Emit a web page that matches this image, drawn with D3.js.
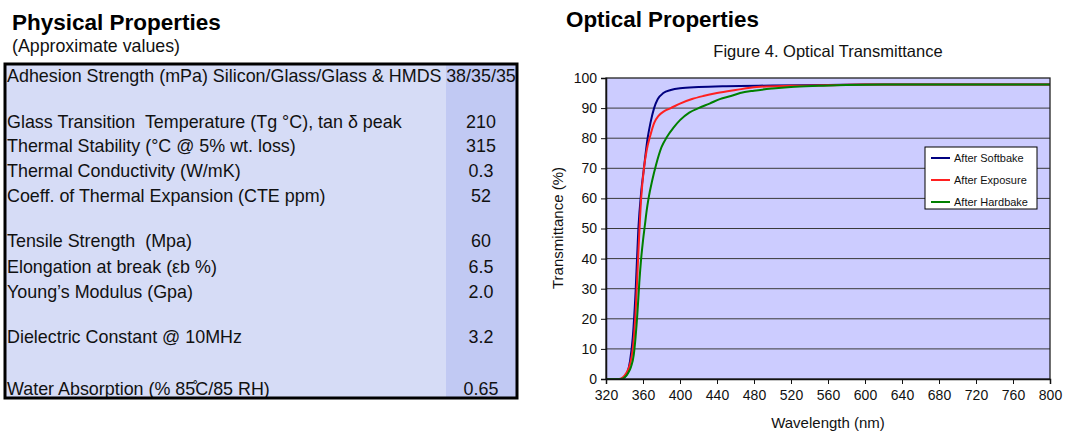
<!DOCTYPE html>
<html><head><meta charset="utf-8">
<script src="https://cdn.jsdelivr.net/npm/d3@7"></script>
<style>body{margin:0;background:#fff}svg{display:block;font-family:"Liberation Sans",Arial,sans-serif}text{white-space:pre}</style>
</head><body>
<svg id="c" width="1067" height="435"></svg>
<script>
// ---- Table data ----
const propLabels = [
  "Adhesion Strength (mPa) Silicon/Glass/Glass & HMDS",
  "Glass Transition  Temperature (Tg °C), tan δ peak",
  "Thermal Stability (°C @ 5% wt. loss)",
  "Thermal Conductivity (W/mK)",
  "Coeff. of Thermal Expansion (CTE ppm)",
  "Tensile Strength  (Mpa)",
  "Elongation at break (εb %)",
  "Young’s Modulus (Gpa)",
  "Dielectric Constant @ 10MHz",
  "Water Absorption (% 85\u030AC/85 RH)"
];
const propValues = ["38/35/35","210","315","0.3","52","60","6.5","2.0","3.2","0.65"];
const propRowY = [76,122,146,171,196,241,267,292,337,389];

// ---- Chart data ----
const seriesNames = ["After Softbake","After Exposure","After Hardbake"];
const seriesColors = ["#000080","#ff2020","#008000"];
const softbakeWl = [320,335,340,343,346,349,352,355,358,361,365,368,372,376,382,390,400,420,450,500,560,600,700,800];
const softbakeT  = [0,0,0.5,2,6,14,29,50,62,70,80,85,90,93,95,96,96.6,97,97.3,97.5,97.7,97.8,97.8,97.8];
const exposureWl = [320,334,338,342,346,349,352,355,358,361,364,368,372,377,383,390,400,413,425,440,460,483,520,560,600,800];
const exposureT  = [0,0,0.5,2,5,10,22,42,60,70,76,81,85,87.5,89,90,91.5,93,94,95,96,97,97.4,97.6,97.8,97.8];
const hardbakeWl = [320,336,340,344,347,350,352,354,356,358,360,362,364,366,370,374,380,386,393,400,410,420,432,443,455,465,480,500,520,550,580,620,800];
const hardbakeT  = [0,0,0.5,2,4,8,14,22,32,40,46,51,56,60,66,71,77,80.5,83.5,86,88.5,90,91.5,93,94,95,95.8,96.5,97,97.4,97.7,97.8,97.8];
const xTicks = [320,360,400,440,480,520,560,600,640,680,720,760,800];
const yTicks = [0,10,20,30,40,50,60,70,80,90,100];

const svg = d3.select("#c");

// ---- Left: table ----
svg.append("text").attr("x",12).attr("y",30).attr("font-size",22.5).attr("font-weight","bold").attr("fill","#000").text("Physical Properties");
svg.append("text").attr("x",12).attr("y",52).attr("font-size",17.8).attr("fill","#111").text("(Approximate values)");
const tb = {x:5,y:64,w:512,h:334,valX:446};
svg.append("defs").append("clipPath").attr("id","tclip").append("rect").attr("x",tb.x).attr("y",tb.y).attr("width",tb.w).attr("height",tb.h);
svg.append("rect").attr("x",tb.x).attr("y",tb.y).attr("width",tb.w).attr("height",tb.h).attr("fill","#d6dcf6");
svg.append("rect").attr("x",tb.valX).attr("y",tb.y).attr("width",tb.x+tb.w-tb.valX).attr("height",tb.h).attr("fill","#c1c9f3");
const tg = svg.append("g").attr("clip-path","url(#tclip)").attr("font-size",17.9).attr("fill","#111");
tg.selectAll("text.l").data(propLabels).join("text").attr("class","l")
  .attr("x",7).attr("y",(d,i)=>propRowY[i]+6).text(d=>d);
tg.selectAll("text.v").data(propValues).join("text").attr("class","v")
  .attr("x",481).attr("y",(d,i)=>propRowY[i]+6).attr("text-anchor","middle").text(d=>d);
svg.append("rect").attr("x",tb.x).attr("y",tb.y).attr("width",tb.w).attr("height",tb.h)
  .attr("fill","none").attr("stroke","#000").attr("stroke-width",3);

// ---- Right: chart ----
svg.append("text").attr("x",566).attr("y",27).attr("font-size",22.4).attr("font-weight","bold").attr("fill","#000").text("Optical Properties");
svg.append("text").attr("x",828).attr("y",57).attr("font-size",16.5).attr("text-anchor","middle").attr("fill","#111").text("Figure 4. Optical Transmittance");

const m = {l:606,r:1050,t:78,b:379};
const x = d3.scaleLinear().domain([320,800]).range([m.l,m.r]);
const y = d3.scaleLinear().domain([0,100]).range([m.b,m.t]);

svg.append("rect").attr("x",m.l).attr("y",m.t).attr("width",m.r-m.l).attr("height",m.b-m.t).attr("fill","#ccccff");
svg.append("g").selectAll("line").data(yTicks.filter(v=>v>0&&v<100)).join("line")
  .attr("x1",m.l).attr("x2",m.r).attr("y1",d=>y(d)).attr("y2",d=>y(d))
  .attr("stroke","#3a3a3a").attr("stroke-width",1);

svg.append("defs").append("clipPath").attr("id","pclip").append("rect")
  .attr("x",m.l).attr("y",m.t-2).attr("width",m.r-m.l).attr("height",m.b-m.t+2);

const series = [
  {wl:softbakeWl,t:softbakeT},
  {wl:exposureWl,t:exposureT},
  {wl:hardbakeWl,t:hardbakeT}
];
const line = d3.line().x(d=>x(d[0])).y(d=>y(d[1])).curve(d3.curveMonotoneX);
const pg = svg.append("g").attr("clip-path","url(#pclip)");
series.forEach((s,i)=>{
  pg.append("path").datum(s.wl.map((w,j)=>[w,s.t[j]]))
    .attr("d",line).attr("fill","none").attr("stroke",seriesColors[i]).attr("stroke-width",2);
});

// frame
svg.append("rect").attr("x",m.l).attr("y",m.t).attr("width",m.r-m.l).attr("height",m.b-m.t)
  .attr("fill","none").attr("stroke","#222").attr("stroke-width",1.3);

// axes
const yAxis = svg.append("g").attr("transform",`translate(${m.l},0)`)
  .call(d3.axisLeft(y).tickValues(yTicks).tickSize(5).tickPadding(4));
const xAxis = svg.append("g").attr("transform",`translate(0,${m.b})`)
  .call(d3.axisBottom(x).tickValues(xTicks).tickSize(5).tickPadding(6));
[yAxis,xAxis].forEach(a=>{
  a.select(".domain").attr("stroke","#111").attr("stroke-width",1.5);
  a.selectAll(".tick line").attr("stroke","#111");
  a.selectAll(".tick text").attr("font-size",14).attr("font-family","Liberation Sans, Arial, sans-serif").attr("fill","#111");
});

svg.append("text").attr("transform","translate(563,228) rotate(-90)").attr("text-anchor","middle")
  .attr("font-size",15).attr("fill","#111").text("Transmittance (%)");
svg.append("text").attr("x",828).attr("y",428).attr("text-anchor","middle")
  .attr("font-size",15).attr("fill","#111").text("Wavelength (nm)");

// legend
const lg = svg.append("g").attr("transform","translate(925,147)");
lg.append("rect").attr("width",112).attr("height",62).attr("fill","#fff").attr("stroke","#000");
seriesNames.forEach((n,i)=>{
  const yy = 11 + i*22;
  lg.append("line").attr("x1",6).attr("x2",25).attr("y1",yy).attr("y2",yy).attr("stroke",seriesColors[i]).attr("stroke-width",2);
  lg.append("text").attr("x",29).attr("y",yy+4).attr("font-size",11).attr("fill","#111").text(n);
});
</script>
</body></html>
